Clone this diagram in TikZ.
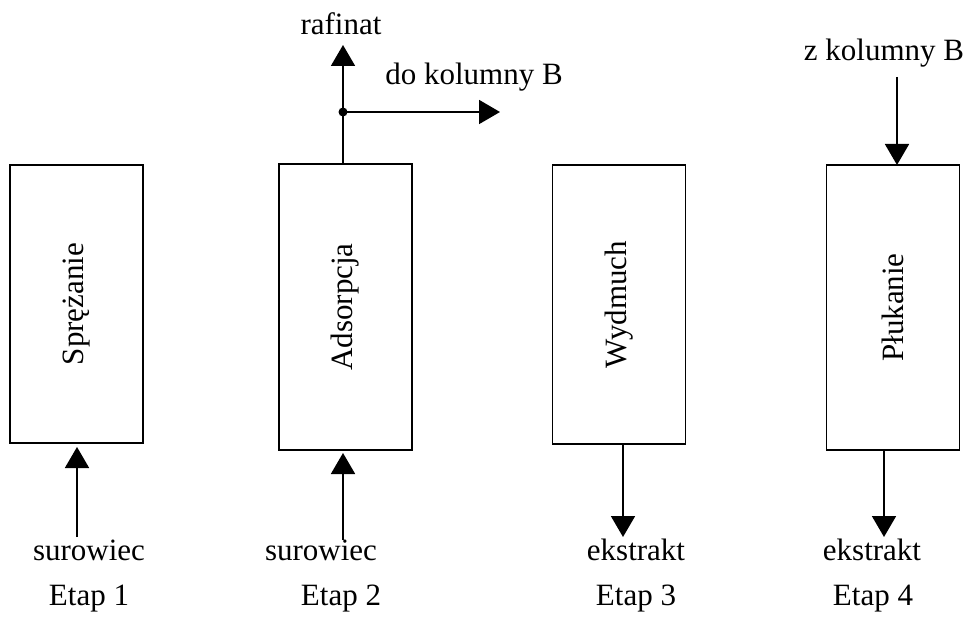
\documentclass[tikz,border=0pt]{standalone}
\usepackage{fontspec}
\setmainfont{Liberation Serif}
\usetikzlibrary{arrows.meta}
\begin{document}
\begin{tikzpicture}[x=1pt,y=-1pt,
  stagebox/.style={draw, line width=1.8pt, inner sep=0pt, outer sep=0pt, minimum width=133pt},
  lbl/.style={font=\fontsize{31}{37}\selectfont, inner sep=0pt, anchor=base},
  boxlbl/.style={font=\fontsize{31}{37}\selectfont, inner sep=0pt, rotate=90, anchor=center},
  arr/.style={line width=1.8pt, -{Triangle[width=24pt,length=21pt]}},
  conn/.style={line width=1.8pt}]
\useasboundingbox (0,0) rectangle (968,617);

% stage boxes
\node[stagebox, minimum height=278pt] (b1) at (76.5,304) {};
\node[stagebox, minimum height=286pt] (b2) at (345.5,307) {};
\node[stagebox, minimum height=279pt] (b3) at (619,304.5) {};
\node[stagebox, minimum height=285pt] (b4) at (893,307.5) {};
\node[boxlbl] (t1) at (b1.center) {Sprężanie};
\node[boxlbl] (t2) at (b2.center) {Adsorpcja};
\node[boxlbl] (t3) at (b3.center) {Wydmuch};
\node[boxlbl] (t4) at (b4.center) {Płukanie};

% bottom labels
\node[lbl] (sur1) at (89,560) {surowiec};
\node[lbl] (et1) at (89,605) {Etap 1};
\node[lbl] (sur2) at (321,560) {surowiec};
\node[lbl] (et2) at (341,605) {Etap 2};
\node[lbl] (ek3) at (636,560) {ekstrakt};
\node[lbl] (et3) at (636,605) {Etap 3};
\node[lbl] (ek4) at (872,560) {ekstrakt};
\node[lbl] (et4) at (873,605) {Etap 4};

% top labels
\node[lbl] (raf) at (341,35) {rafinat};
\node[lbl] (dok) at (474,85) {do kolumny B};
\node[lbl] (zk) at (884,61) {z kolumny B};

% connector ends
\coordinate (s1) at (77,537);
\coordinate (s2) at (343,540);
\coordinate (j) at (343,112);
\coordinate (r) at (343,45);
\coordinate (h) at (500,112);
\coordinate (e3) at (623,537);
\coordinate (e4) at (884,537);
\coordinate (z4) at (897,77);

% connectors
\draw[arr, shorten >=4pt] (s1) -- (s1 |- b1.south);
\draw[arr, shorten >=3pt] (s2) -- (s2 |- b2.south);
\draw[conn] (j |- b2.north) -- (j);
\draw[arr] (j) -- (r);
\draw[arr] (j) -- (h);
\fill (j) circle (4.5pt);
\draw[arr] (e3 |- b3.south) -- (e3);
\draw[arr] (e4 |- b4.south) -- (e4);
\draw[arr] (z4) -- (z4 |- b4.north);
\end{tikzpicture}
\end{document}
